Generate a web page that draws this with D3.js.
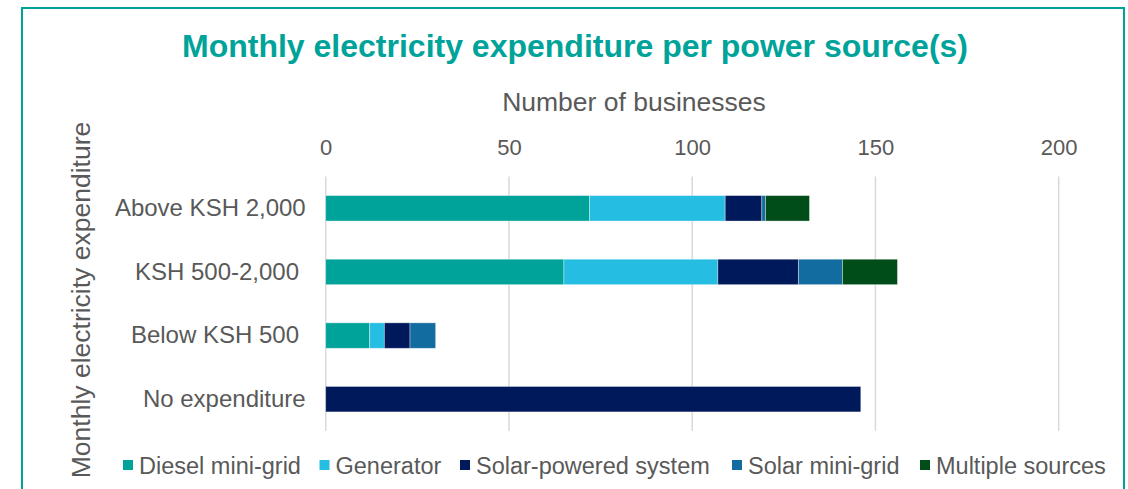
<!DOCTYPE html>
<html>
<head>
<meta charset="utf-8">
<script src="https://cdn.jsdelivr.net/npm/d3@7"></script>
<style>
  html, body { margin: 0; padding: 0; background: #fff; }
  svg { display: block; font-family: "Liberation Sans", Arial, sans-serif; }
</style>
</head>
<body>
<svg id="chart" width="1128" height="489"></svg>
<script>
// Expenditure bands, top to bottom
const categories = ["Above KSH 2,000", "KSH 500-2,000 ", "Below KSH 500 ", "No expenditure"];
// Power sources (stack order, left to right)
const sources = ["Diesel mini-grid", "Generator", "Solar-powered system", "Solar mini-grid", "Multiple sources"];
const sourceColors = ["#00a39a", "#26bde2", "#00195a", "#136ca0", "#004d1a"];
// Number of businesses per band for each source
const dieselMiniGrid  = [72, 65, 12, 0];
const generator       = [37, 42, 4, 0];
const solarPowered    = [10, 22, 7, 146];
const solarMiniGrid   = [1, 12, 7, 0];
const multipleSources = [12, 15, 0, 0];
const xTicks = [0, 50, 100, 150, 200];

const seriesValues = [dieselMiniGrid, generator, solarPowered, solarMiniGrid, multipleSources];
const rows = categories.map((c, i) => {
  const r = { category: c };
  sources.forEach((s, j) => { r[s] = seriesValues[j][i]; });
  return r;
});

const svg = d3.select("#chart");
const plot = { left: 325.7, right: 1058.7, top: 176.5, bottom: 431 };
const textGrey = "#595959";
const fontFamily = "Liberation Sans, Arial, sans-serif";

// Frame
svg.append("rect")
  .attr("x", 22).attr("y", 8)
  .attr("width", 1102).attr("height", 500)
  .attr("fill", "none").attr("stroke", "#00a39a").attr("stroke-width", 2);

// Title
svg.append("text")
  .attr("x", 575).attr("y", 57)
  .attr("text-anchor", "middle")
  .attr("font-size", 32).attr("font-weight", "bold")
  .attr("fill", "#00a39a")
  .text("Monthly electricity expenditure per power source(s)");

const x = d3.scaleLinear().domain([0, 200]).range([plot.left, plot.right]);
const y = d3.scaleBand().domain(categories).range([plot.top, plot.bottom]).paddingInner(0.6).paddingOuter(0.3);

// Vertical gridlines
svg.append("g")
  .selectAll("line").data(xTicks).join("line")
  .attr("x1", d => x(d)).attr("x2", d => x(d))
  .attr("y1", plot.top).attr("y2", plot.bottom)
  .attr("stroke", "#d9d9d9").attr("stroke-width", 1.5);

// Top value axis
const xAxis = svg.append("g")
  .attr("transform", `translate(0,${plot.top})`)
  .call(d3.axisTop(x).tickValues(xTicks).tickSize(0).tickPadding(22).tickFormat(d3.format("d")));
xAxis.select(".domain").remove();
xAxis.selectAll("text").attr("font-size", 22).attr("fill", textGrey).attr("font-family", fontFamily);

svg.append("text")
  .attr("x", 634).attr("y", 111)
  .attr("text-anchor", "middle")
  .attr("font-size", 26.5).attr("fill", textGrey)
  .text("Number of businesses");

// Category axis
const yAxis = svg.append("g")
  .attr("transform", `translate(${plot.left - 20},0)`)
  .call(d3.axisLeft(y).tickSize(0).tickPadding(0));
yAxis.select(".domain").remove();
yAxis.selectAll("text")
  .attr("font-size", 24).attr("fill", textGrey)
  .attr("font-family", fontFamily)
  .style("white-space", "pre");

svg.append("text")
  .attr("transform", "translate(90,300) rotate(-90)")
  .attr("text-anchor", "middle")
  .attr("font-size", 26.5).attr("fill", textGrey)
  .text("Monthly electricity expenditure");

// Stacked bars
const stacked = d3.stack().keys(sources)(rows);
const color = d3.scaleOrdinal().domain(sources).range(sourceColors);
svg.append("g")
  .selectAll("g").data(stacked).join("g")
  .attr("fill", d => color(d.key))
  .selectAll("rect").data(d => d.filter(p => p[1] > p[0])).join("rect")
  .attr("x", d => x(d[0]))
  .attr("y", d => y(d.data.category))
  .attr("width", d => x(d[1]) - x(d[0]))
  .attr("height", y.bandwidth())
  .attr("stroke", "rgba(255,255,255,0.45)").attr("stroke-width", 0.8);

// Legend
const legendX = [123, 319.5, 460, 732, 920];
const legend = svg.append("g").selectAll("g").data(sources).join("g")
  .attr("transform", (d, i) => `translate(${legendX[i]},465)`);
legend.append("rect")
  .attr("x", 0).attr("y", -5).attr("width", 10).attr("height", 10)
  .attr("fill", d => color(d));
legend.append("text")
  .attr("x", 16).attr("y", 8.5)
  .attr("font-size", 23.5).attr("fill", textGrey)
  .text(d => d);
</script>
</body>
</html>
